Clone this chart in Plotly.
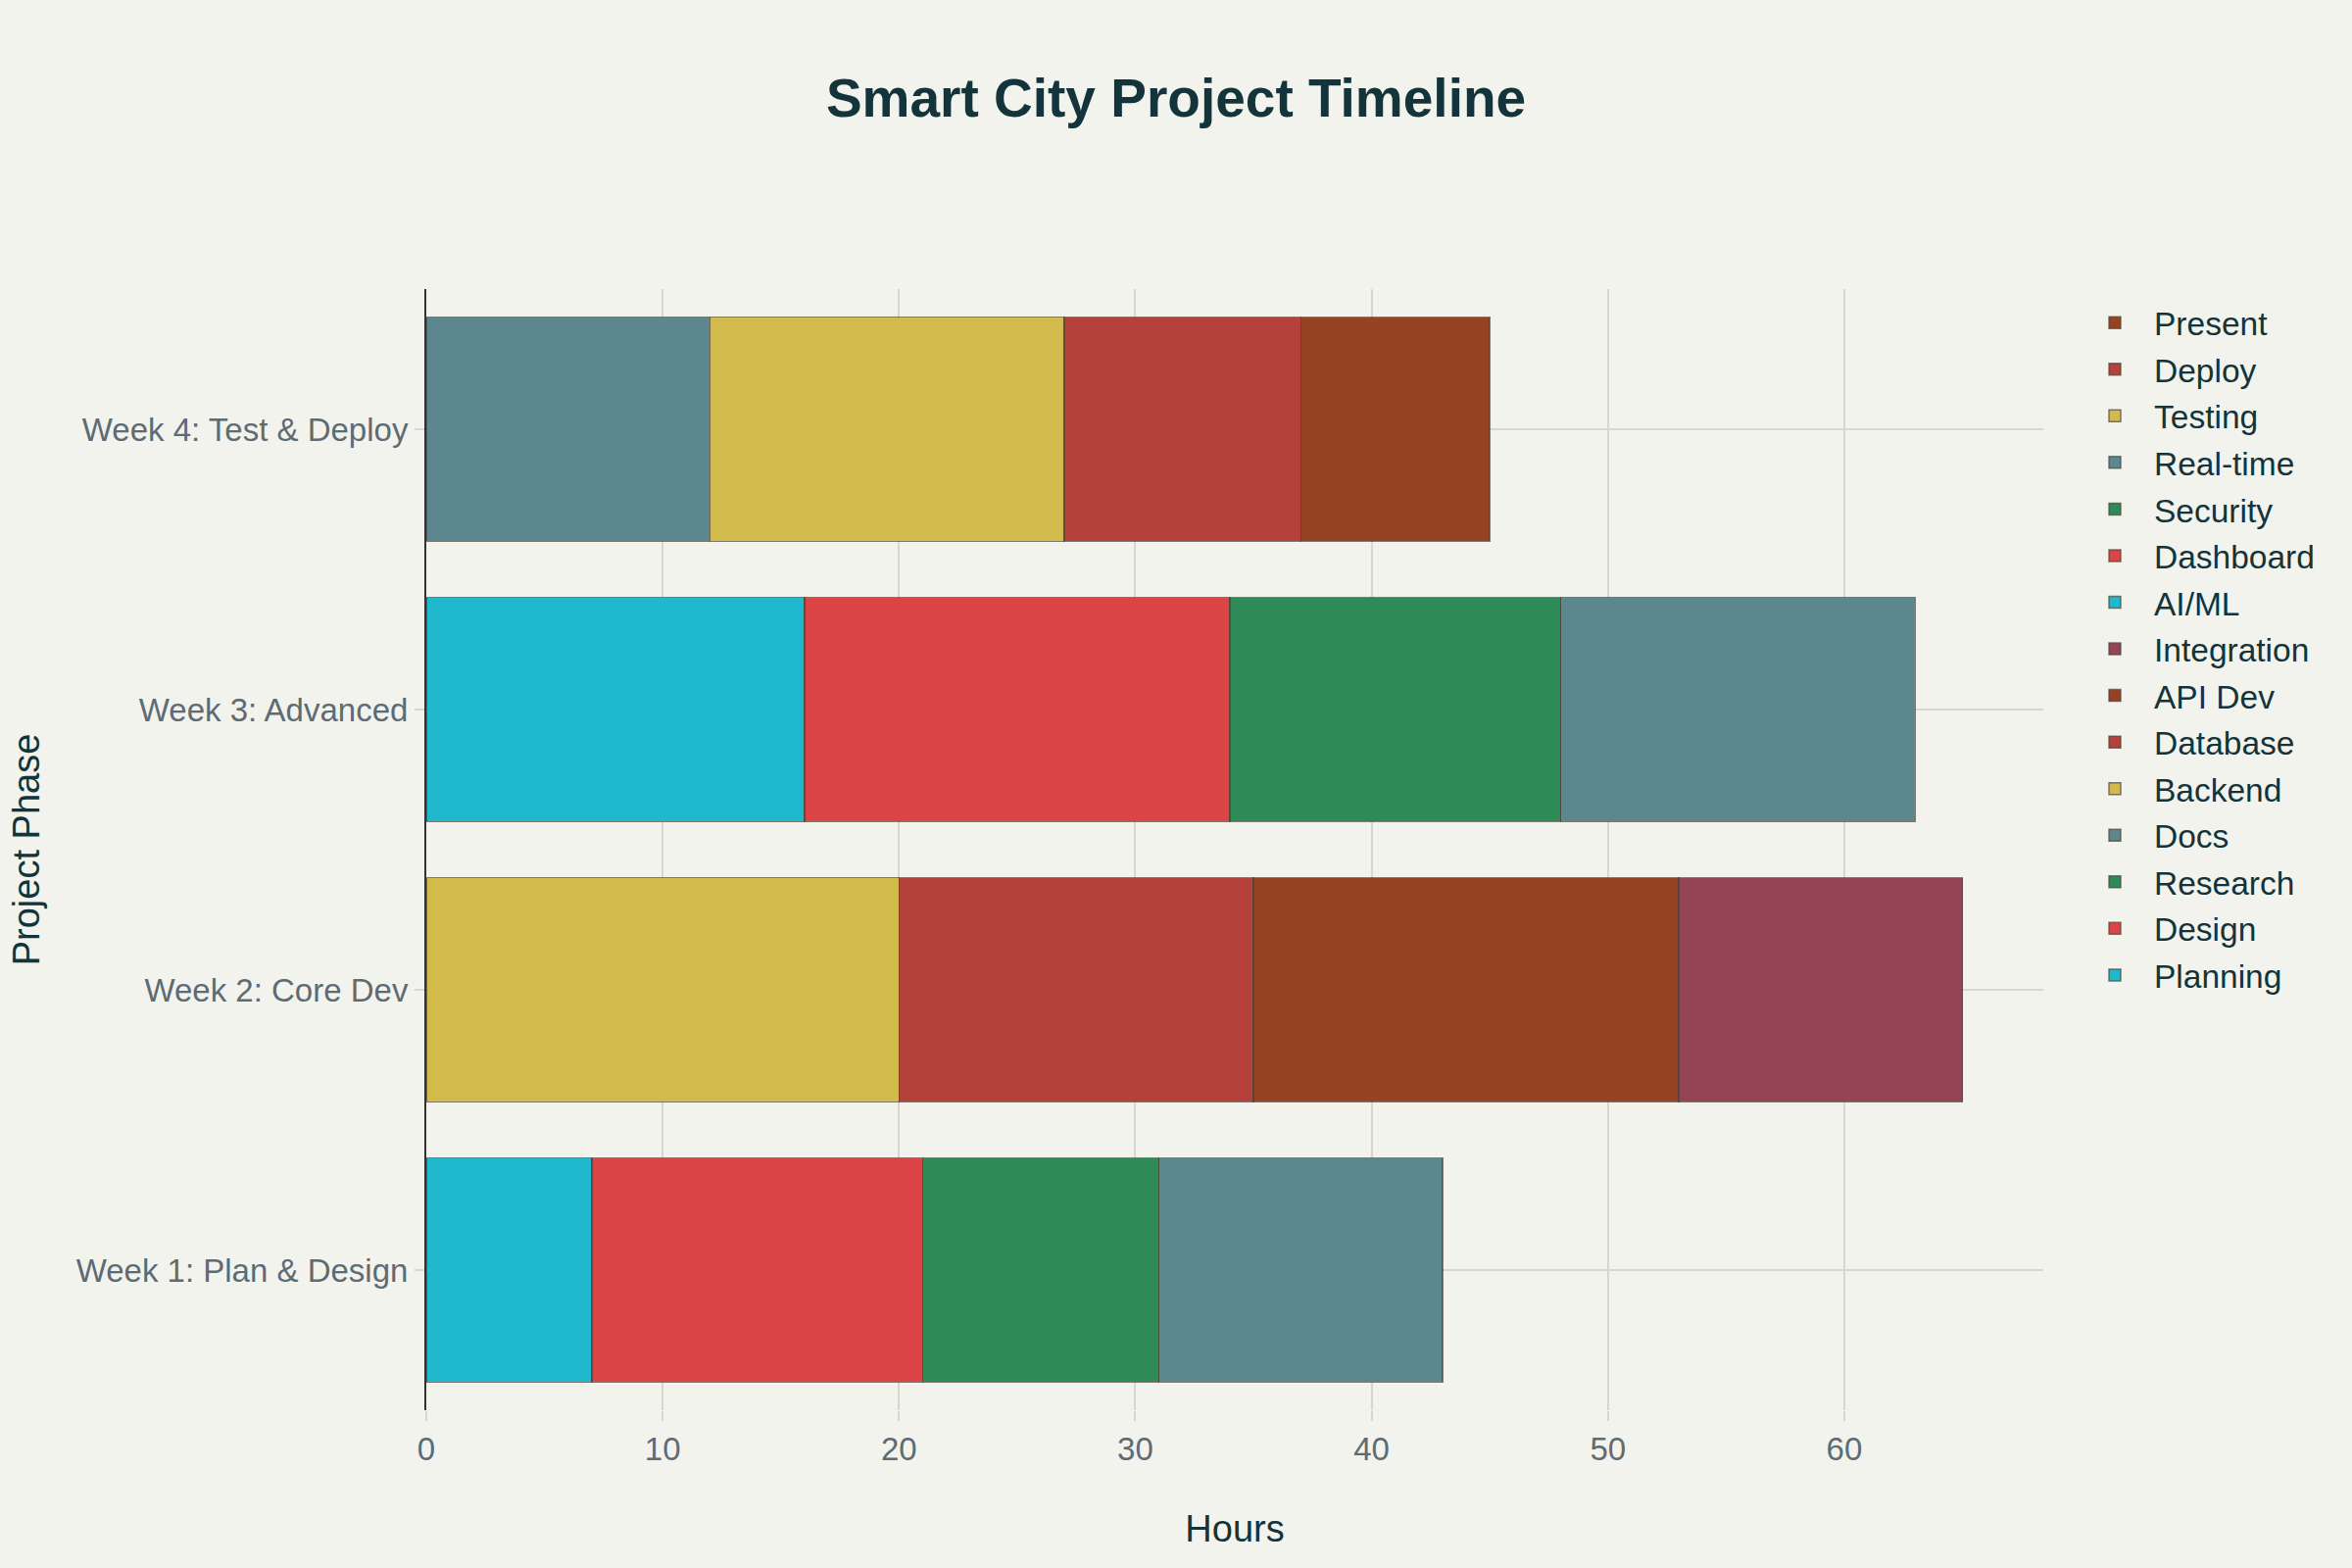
import plotly.graph_objects as go

phases = ["Week 1: Plan & Design", "Week 2: Core Dev", "Week 3: Advanced", "Week 4: Test & Deploy"]

# each task: name, the phase(s) it appears in, and hours in each
task_names = ["Planning", "Design", "Research", "Docs",
              "Backend", "Database", "API Dev", "Integration",
              "AI/ML", "Dashboard", "Security", "Real-time",
              "Testing", "Deploy", "Present"]
task_phases = [
    [phases[0]], [phases[0]], [phases[0]], [phases[0]],
    [phases[1]], [phases[1]], [phases[1]], [phases[1]],
    [phases[2]], [phases[2]], [phases[2]], [phases[2], phases[3]],
    [phases[3]], [phases[3]], [phases[3]],
]
task_hours = [
    [7], [14], [10], [12],
    [20], [15], [18], [12],
    [16], [18], [14], [15, 12],
    [15], [10], [8],
]
palette = ["#1FB8CD", "#DB4545", "#2E8B57", "#5D878F",
           "#D2BA4C", "#B4413C", "#964325", "#944454"]

fig = go.Figure()
n = len(task_names)
for i, name in enumerate(task_names):
    fig.add_trace(go.Bar(
        y=task_phases[i], x=task_hours[i], name=name, orientation="h",
        legendgroup=name, legendrank=100 + (n - i),
        marker=dict(color=palette[i % len(palette)],
                    line=dict(color="rgba(80,68,58,0.7)", width=1.5)),
    ))

font_main = "Liberation Sans, Arial, sans-serif"
fig.update_layout(
    width=2400, height=1600,
    barmode="stack",
    paper_bgcolor="#F3F3EE", plot_bgcolor="#F3F3EE",
    margin=dict(l=435, r=315, t=295, b=161, autoexpand=False),
    font=dict(family=font_main, color="#13343B"),
    title=dict(text="<b>Smart City Project Timeline</b>", x=0.5, xanchor="center",
               y=1 - 100 / 1600, yanchor="middle",
               font=dict(size=55, color="#13343B", family=font_main)),
    legend=dict(traceorder="grouped", tracegroupgap=1, itemwidth=70,
                font=dict(size=33.5, color="#13343B", family=font_main),
                bgcolor="rgba(0,0,0,0)", x=1.02, y=0.9948, yanchor="top"),
    xaxis=dict(title=dict(text="Hours", font=dict(size=38, color="#13343B"), standoff=50),
               showgrid=True, gridcolor="#D9D6D1", gridwidth=2,
               zeroline=False, showline=False,
               ticks="outside", ticklen=10, tickwidth=2, tickcolor="#D9D6D1",
               tickfont=dict(size=33, color="#5E6B73"), dtick=10),
    yaxis=dict(title=dict(text="Project Phase", font=dict(size=38, color="#13343B"), standoff=25),
               showgrid=True, gridcolor="#D9D6D1", gridwidth=2,
               showline=True, linecolor="#333333", linewidth=2,
               ticks="outside", ticklen=10, tickwidth=2, tickcolor="#D9D6D1",
               tickfont=dict(size=33, color="#5E6B73"),
               categoryorder="array", categoryarray=phases),
)

fig.write_html("out.html")
